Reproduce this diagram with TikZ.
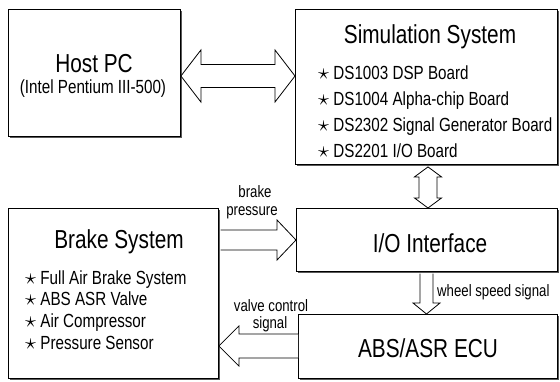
\documentclass[tikz,border=0pt]{standalone}
\usepackage{fontspec}
\setmainfont{Liberation Sans}[FakeStretch=0.8]
\usepackage{tikz}
\usetikzlibrary{calc,shadows}

\newcommand{\itemstar}{\scalebox{1.3}{$\star$}}

\tikzset{
  box/.style={draw, line width=0.9pt, fill=white, inner sep=0pt, anchor=north west,
    drop shadow={shadow xshift=1.6pt, shadow yshift=-1.6pt, fill=black!65, opacity=1}},
  boxtitle/.style={font=\fontsize{26}{30}\selectfont, inner sep=0pt, anchor=base},
  boxitem/.style={font=\fontsize{19}{24}\selectfont, inner sep=0pt, anchor=base west},
  flowlabel/.style={font=\fontsize{16.5}{20}\selectfont, inner sep=0pt, anchor=base},
  blockarrow/.style={draw, line width=0.8pt, fill=white, line join=miter},
}

\begin{document}
\begin{tikzpicture}[x=1pt, y=-1pt]
  \useasboundingbox (0,0) rectangle (560,381);

  % blocks
  \node[box, minimum width=172pt, minimum height=127pt] (host) at (8,9) {};
  \node[box, minimum width=262pt, minimum height=155pt] (sim) at (295,9) {};
  \node[box, minimum width=261pt, minimum height=63pt] (io) at (296,208) {};
  \node[box, minimum width=210pt, minimum height=170pt] (brake) at (8,208) {};
  \node[box, minimum width=259pt, minimum height=64pt] (ecu) at (298,314) {};

  % texts in the blocks
  \node[boxtitle] (hosttitle) at (94,72) {Host PC};
  \node[boxtitle, font=\fontsize{19}{24}\selectfont] (hostcpu) at (93,93) {(Intel Pentium III-500)};

  \node[boxtitle] (simtitle) at (430,43) {Simulation System};
  \node[boxitem] (sima) at (318,79) {\itemstar\ DS1003 DSP Board};
  \node[boxitem] (simb) at (318,105) {\itemstar\ DS1004 Alpha-chip Board};
  \node[boxitem] (simc) at (318,131) {\itemstar\ DS2302 Signal Generator Board};
  \node[boxitem] (simd) at (318,157) {\itemstar\ DS2201 I/O Board};

  \node[boxtitle] (iotitle) at (430,252) {I/O Interface};

  \node[boxtitle] (braketitle) at (119,248) {Brake System};
  \node[boxitem] (brakea) at (25,284) {\itemstar\ Full Air Brake System};
  \node[boxitem] (brakeb) at (25,305) {\itemstar\ ABS ASR Valve};
  \node[boxitem] (brakec) at (25,327) {\itemstar\ Air Compressor};
  \node[boxitem] (braked) at (25,349) {\itemstar\ Pressure Sensor};

  \node[boxtitle] (ecutitle) at (428,357) {ABS/ASR ECU};

  % arrow centre lines
  \coordinate (hs) at (0,76);
  \coordinate (si) at (428,0);
  \coordinate (bp) at (0,240);
  \coordinate (ie) at (426.5,0);
  \coordinate (vc) at (0,346);

  % host <-> simulation
  \draw[blockarrow] let \p1=(host.east |- hs), \p2=(sim.west |- hs) in
    (\x1,\y1) -- (\x1+20pt,\y1+26pt) -- (\x1+20pt,\y1+11.5pt) -- (\x2-20pt,\y1+11.5pt)
    -- (\x2-20pt,\y1+26pt) -- (\x2,\y1) -- (\x2-20pt,\y1-26pt) -- (\x2-20pt,\y1-11.5pt)
    -- (\x1+20pt,\y1-11.5pt) -- (\x1+20pt,\y1-26pt) -- cycle;

  % simulation <-> i/o
  \draw[blockarrow] let \p1=(sim.south -| si), \p2=(io.north -| si) in
    (\x1,\y1-2pt) -- (\x1+13.5pt,\y1-12pt) -- (\x1+9pt,\y1-12pt) -- (\x1+9pt,\y2+10pt)
    -- (\x1+13.5pt,\y2+10pt) -- (\x1,\y2) -- (\x1-13.5pt,\y2+10pt) -- (\x1-9pt,\y2+10pt)
    -- (\x1-9pt,\y1-12pt) -- (\x1-13.5pt,\y1-12pt) -- cycle;

  % brake -> i/o
  \draw[blockarrow] let \p1=(brake.east |- bp), \p2=(io.west |- bp) in
    (\x1+1.6pt,\y1+10pt) -- (\x2-19pt,\y1+10pt) -- (\x2-19pt,\y1+20pt) -- (\x2,\y1)
    -- (\x2-19pt,\y1-20pt) -- (\x2-19pt,\y1-10pt) -- (\x1+1.6pt,\y1-10pt);

  % i/o -> ecu
  \draw[blockarrow] let \p1=(io.south -| ie), \p2=(ecu.north -| ie) in
    (\x1-6.5pt,\y1-1.6pt) -- (\x1-6.5pt,\y2+11pt) -- (\x1-13.5pt,\y2+11pt) -- (\x1,\y2)
    -- (\x1+13.5pt,\y2+11pt) -- (\x1+6.5pt,\y2+11pt) -- (\x1+6.5pt,\y1-1.6pt);

  % ecu -> brake
  \draw[blockarrow] let \p1=(ecu.west |- vc), \p2=(brake.east |- vc) in
    (\x1,\y1+12pt) -- (\x2+20pt,\y1+12pt) -- (\x2+20pt,\y1+20pt) -- (\x2,\y1)
    -- (\x2+20pt,\y1-20pt) -- (\x2+20pt,\y1-12pt) -- (\x1,\y1-12pt);

  % arrow labels
  \node[flowlabel] (bpa) at (255,197) {brake};
  \node[flowlabel] (bpb) at (252,215) {pressure};
  \node[flowlabel, anchor=base west] (ws) at (437,296) {wheel speed signal};
  \node[flowlabel] (vca) at (271,311) {valve control};
  \node[flowlabel] (vcb) at (270,328) {signal};
\end{tikzpicture}
\end{document}
